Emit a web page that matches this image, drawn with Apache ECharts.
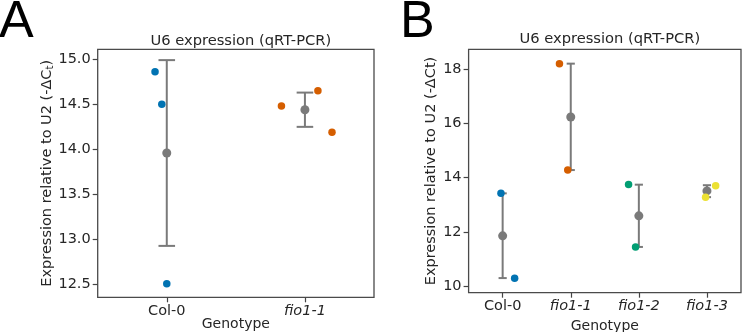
<!DOCTYPE html>
<html lang="en">
<head>
  <meta charset="UTF-8">
  <title>U6 expression</title>
  <script src="https://cdn.jsdelivr.net/npm/echarts@6/dist/echarts.min.js"></script>
  <style>
    html, body { margin: 0; padding: 0; background: #fff; }
  </style>
</head>
<body>
<div id="main" style="width:742px;height:332px"></div>
<script>
  // panel A
  var aCats = ['Col-0', 'fio1-1'];
  var aPoints = [[14.86, 14.50, 12.51], [14.48, 14.65, 14.19]];
  var aJitter = [[-0.085, -0.036, 0.0], [-0.17, 0.094, 0.196]];
  var aMean = [13.96, 14.44];
  var aLow = [12.93, 14.25];
  var aHigh = [14.99, 14.63];
  var aTicks = [12.5, 13.0, 13.5, 14.0, 14.5, 15.0];

  // panel B
  var bCats = ['Col-0', 'fio1-1', 'fio1-2', 'fio1-3'];
  var bPoints = [[13.42, 10.28], [18.21, 14.28], [13.75, 11.44], [13.28, 13.70]];
  var bJitter = [[-0.025, 0.176], [-0.166, -0.044], [-0.151, -0.048], [-0.02, 0.128]];
  var bMean = [11.85, 16.24, 12.59, 13.51];
  var bLow = [10.29, 14.28, 11.44, 13.28];
  var bHigh = [13.42, 18.21, 13.74, 13.72];
  var bTicks = [10, 12, 14, 16, 18];

  var colors = ['#0173b2', '#d55e00', '#029e73', '#ece133'];
  var grey = '#7a7a7a';
  var font = '"DejaVu Sans", Verdana, sans-serif';
  var txt = '#262626';
  var capHalf = 0.06;
  var fs = 14.5;

  var chart = echarts.init(document.getElementById('main'));

  function errItem(params, api) {
    var x = api.value(0);
    var top = api.coord([x, api.value(2)]);
    var bot = api.coord([x, api.value(1)]);
    var hw = api.size([capHalf, 0])[0];
    var st = {stroke: grey, lineWidth: 2};
    return {type: 'group', children: [
      {type: 'line', shape: {x1: top[0], y1: top[1], x2: bot[0], y2: bot[1]}, style: st},
      {type: 'line', shape: {x1: top[0] - hw, y1: top[1], x2: top[0] + hw, y2: top[1]}, style: st},
      {type: 'line', shape: {x1: bot[0] - hw, y1: bot[1], x2: bot[0] + hw, y2: bot[1]}, style: st}
    ]};
  }

  function xAxisFor(idx, cats) {
    var pos = cats.map(function (c, i) { return i; });
    return {
      type: 'value', gridIndex: idx, min: -0.5, max: cats.length - 0.5,
      name: 'Genotype', nameLocation: 'middle', nameGap: idx === 0 ? 20 : 27,
      nameMoveOverlap: false,
      nameTextStyle: {fontFamily: font, fontSize: 14, color: txt},
      axisLine: {show: false, onZero: false},
      splitLine: {show: false},
      axisTick: {show: true, length: 5, lineStyle: {color: '#444', width: 1.2}, customValues: pos},
      axisLabel: {
        customValues: pos,
        fontFamily: font, fontSize: fs, color: txt, margin: 6,
        formatter: function (v) {
          var n = cats[Math.round(v)];
          return n.indexOf('fio') === 0 ? '{i|' + n + '}' : n;
        },
        rich: {i: {fontStyle: 'italic', fontFamily: font, fontSize: fs, color: txt}}
      }
    };
  }

  function yAxisFor(idx, min, max, ticks, dec, name, gap, rich) {
    return {
      type: 'value', gridIndex: idx, min: min, max: max,
      name: name, nameLocation: 'middle', nameGap: gap, nameRotate: 90,
      nameMoveOverlap: false,
      nameTextStyle: {fontFamily: font, fontSize: fs, color: txt, rich: rich},
      axisLine: {show: false, onZero: false},
      splitLine: {show: false},
      axisTick: {show: true, length: 5, lineStyle: {color: '#444', width: 1.2}, customValues: ticks},
      axisLabel: {customValues: ticks, fontFamily: font, fontSize: fs, color: txt, margin: 7,
        formatter: function (v) { return v.toFixed(dec); }}
    };
  }

  var series = [];
  function addPanel(idx, cats, pts, jit, mean, low, high) {
    series.push({
      type: 'custom', xAxisIndex: idx, yAxisIndex: idx, renderItem: errItem,
      data: cats.map(function (c, i) { return [i, low[i], high[i]]; }), z: 2
    });
    series.push({
      type: 'scatter', xAxisIndex: idx, yAxisIndex: idx, symbolSize: 9,
      itemStyle: {color: grey, opacity: 1},
      data: cats.map(function (c, i) { return [i, mean[i]]; }), z: 3
    });
    cats.forEach(function (c, i) {
      series.push({
        type: 'scatter', xAxisIndex: idx, yAxisIndex: idx, symbolSize: 7.5,
        itemStyle: {color: colors[i], opacity: 1},
        data: pts[i].map(function (v, j) { return [i + jit[i][j], v]; }), z: 4
      });
    });
  }
  addPanel(0, aCats, aPoints, aJitter, aMean, aLow, aHigh);
  addPanel(1, bCats, bPoints, bJitter, bMean, bLow, bHigh);

  var frame = {show: true, borderColor: '#4a4a4a', borderWidth: 1.3, backgroundColor: '#fff',
    containLabel: false, outerBoundsMode: 'none'};

  chart.setOption({
    animation: false,
    grid: [
      Object.assign({left: 97.7, top: 49.3, width: 276.3, height: 248}, frame),
      Object.assign({left: 468.6, top: 49.3, width: 272.4, height: 243.4}, frame)
    ],
    title: [
      {text: 'U6 expression (qRT-PCR)', left: 235.8, top: 29, textAlign: 'center',
        textStyle: {fontFamily: font, fontSize: 14.7, fontWeight: 'normal', color: txt}},
      {text: 'U6 expression (qRT-PCR)', left: 604.8, top: 27, textAlign: 'center',
        textStyle: {fontFamily: font, fontSize: 14.7, fontWeight: 'normal', color: txt}}
    ],
    graphic: [
      {type: 'text', left: -1, top: -3, style: {text: 'A', font: '52px "Liberation Sans", Arial, sans-serif', fill: '#000'}},
      {type: 'text', left: 400, top: -3, style: {text: 'B', font: '52px "Liberation Sans", Arial, sans-serif', fill: '#000'}}
    ],
    xAxis: [xAxisFor(0, aCats), xAxisFor(1, bCats)],
    yAxis: [
      yAxisFor(0, 12.36, 15.11, aTicks, 1, 'Expression relative to U2 (-ΔC{s|t})', 42,
        {s: {fontFamily: font, fontSize: 10, color: txt, verticalAlign: 'bottom', padding: [6, 0, 0, 0]}}),
      yAxisFor(1, 9.75, 18.74, bTicks, 0, 'Expression relative to U2 (-ΔCt)', 30, {})
    ],
    series: series
  });
</script>
</body>
</html>
